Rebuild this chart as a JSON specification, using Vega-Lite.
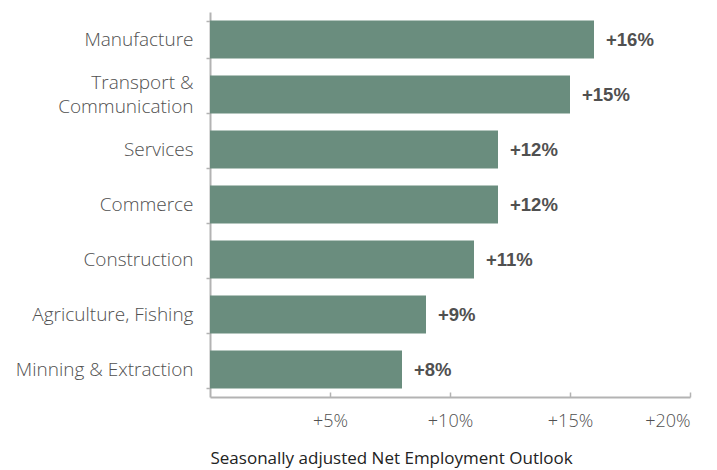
{
  "$schema": "https://vega.github.io/schema/vega-lite/v6.json",
  "autosize": "none",
  "width": 480,
  "height": 385,
  "padding": {"left": 210, "top": 12, "right": 27, "bottom": 73},
  "background": "white",
  "data": {
    "values": [
      {"sector": "Manufacture", "value": 0.16},
      {"sector": "Transport & Communication", "value": 0.15},
      {"sector": "Services", "value": 0.12},
      {"sector": "Commerce", "value": 0.12},
      {"sector": "Construction", "value": 0.11},
      {"sector": "Agriculture, Fishing", "value": 0.09},
      {"sector": "Minning & Extraction", "value": 0.08}
    ]
  },
  "config": {
    "view": {"stroke": null}
  },
  "encoding": {
    "y": {
      "field": "sector",
      "type": "nominal",
      "sort": null,
      "scale": {"paddingInner": 0.31, "paddingOuter": 0.155},
      "axis": {
        "title": null,
        "domainColor": "#b3b3b3",
        "domainWidth": 2,
        "tickColor": "#b3b3b3",
        "tickWidth": 1.5,
        "tickSize": 4,
        "tickBand": "extent",
        "labelFont": "Open Sans",
        "labelFontWeight": 300,
        "labelFontSize": 19,
        "labelColor": "#505050",
        "labelPadding": 13,
        "labelLimit": 250,
        "labelExpr": "datum.value == 'Transport & Communication' ? ['Transport &', 'Communication'] : datum.value",
        "labelLineHeight": 24,
        "labelOffset": {"condition": {"test": "datum.value == 'Transport & Communication'", "value": -12}, "value": 0}
      }
    },
    "x": {
      "field": "value",
      "type": "quantitative",
      "scale": {"domain": [0, 0.2], "nice": false},
      "axis": {
        "title": "Seasonally adjusted Net Employment Outlook",
        "titleFont": "Open Sans",
        "titleFontWeight": "normal",
        "titleFontSize": 17,
        "titleColor": "#222222",
        "titleAnchor": "start",
        "titleAlign": "left",
        "titlePadding": 20,
        "values": [0.05, 0.1, 0.15, 0.2],
        "format": "+.0%",
        "grid": false,
        "domainColor": "#b3b3b3",
        "domainWidth": 2,
        "tickColor": "#b3b3b3",
        "tickWidth": 1.5,
        "tickSize": -5,
        "labelFont": "Open Sans",
        "labelFontWeight": 300,
        "labelFontSize": 18,
        "labelColor": "#505050",
        "labelPadding": 20
      }
    }
  },
  "layer": [
    {"mark": {"type": "bar", "color": "#6a8d7e"}},
    {
      "mark": {"type": "text", "align": "left", "dx": 12, "font": "Liberation Sans", "fontWeight": "bold", "fontSize": 18.5, "color": "#505050"},
      "encoding": {"text": {"field": "value", "type": "quantitative", "format": "+.0%"}}
    }
  ]
}
